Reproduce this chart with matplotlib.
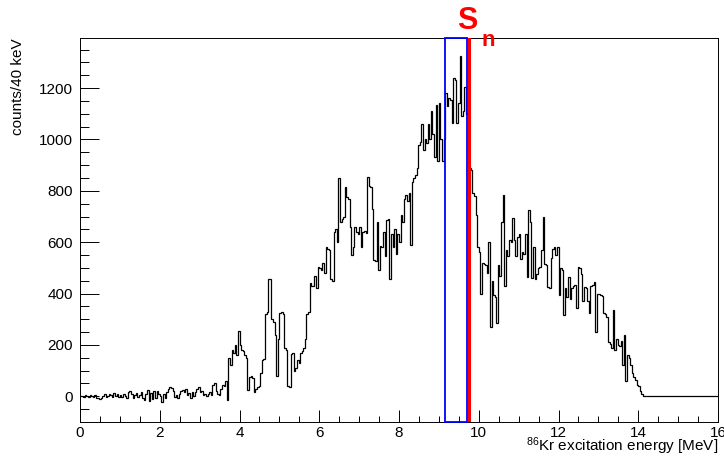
import matplotlib
matplotlib.use("Agg")
import matplotlib.pyplot as plt
import numpy as np
from matplotlib.ticker import MultipleLocator
from matplotlib.patches import Rectangle

plt.rcParams["font.family"] = ["Liberation Sans", "DejaVu Sans"]
plt.rcParams["mathtext.default"] = "regular"

# 40 keV bins, 0-16 MeV (counts per bin)
counts_0_2 = [0, 3, -2, 5, 2, -4, 6, 0, -3, 4, -6, -8, -10, -5, 3, 8, -4, 2, 10, 5, -2, 12, 3, 8, -1,
              5, -3, 10, 2, -6, 15, 22, 8, -5, 4, 12, -2, 6, 18, -8, -15, 10, 25, -20, 14, -12, 20, -5, 22, 8]
counts_2_4 = [2, -22, 10, -5, 18, 30, 35, 32, 20, -2, 5, -8, 10, 22, 25, 15, 28, 5, 12, -5, 18, 2, 15, 30, 35,
              15, 20, 5, 10, 0, 8, 15, 5, 45, 50, 20, 10, 5, 30, 45, 40, 60, -15, 150, 120, 180, 170, 200, 160, 255]
counts_4_6 = [200, 180, 175, 160, 150, 25, 75, 80, 70, 15, 30, 35, 40, 90, 140, 145, 320, 330, 455, 455, 300, 290, 240, 80, 225,
              325, 330, 320, 190, 180, 40, 35, 165, 170, 100, 110, 140, 130, 170, 175, 190, 225, 320, 330, 440, 430, 430, 470, 420, 505]
counts_6_8 = [500, 490, 520, 480, 580, 575, 570, 455, 450, 640, 650, 600, 850, 680, 690, 700, 815, 775, 770, 660, 550, 580, 660, 640, 630,
              660, 580, 640, 645, 635, 855, 820, 815, 730, 530, 525, 680, 490, 585, 580, 640, 545, 685, 690, 455, 630, 580, 650, 555, 630]
counts_8_10 = [600, 705, 680, 770, 785, 760, 790, 590, 835, 850, 860, 890, 980, 990, 1060, 960, 1000, 985, 1060, 1000, 1110, 1020, 930, 1135, 915,
               1140, 1000, 915, 1000, 1180, 1130, 1160, 1155, 1065, 1240, 1230, 1065, 1140, 1325, 1090, 1110, 1205, 1100, 960, 890, 880, 790, 780, 705, 580]
counts_10_12 = [560, 400, 520, 515, 510, 480, 600, 270, 450, 395, 385, 285, 510, 470, 680, 785, 430, 570, 545, 610, 600, 695, 610, 545, 620,
                630, 535, 560, 555, 630, 465, 725, 680, 460, 580, 455, 475, 500, 505, 570, 700, 515, 510, 425, 420, 540, 575, 580, 550, 580]
counts_12_14 = [395, 500, 490, 315, 420, 385, 465, 380, 420, 430, 435, 345, 505, 500, 475, 370, 425, 420, 370, 325, 430, 435, 445, 250, 400,
                400, 395, 390, 325, 320, 310, 210, 205, 190, 335, 180, 225, 200, 195, 215, 120, 240, 60, 160, 150, 120, 90, 75, 65, 45]
counts_14_16 = [40, 20, 8, 0, 0, 0, 0, 0, 0, 0, 0, 0, 0, 0, 0, 0, 0, 0, 0, 0, 0, 0, 0, 0, 0,
                0, 0, 0, 0, 0, 0, 0, 0, 0, 0, 0, 0, 0, 0, 0, 0, 0, 0, 0, 0, 0, 0, 0, 0, 0]

window = (9.16, 9.71)   # blue gate [MeV]
sn_energy = 9.76        # neutron separation energy [MeV]

counts = np.array(counts_0_2 + counts_2_4 + counts_4_6 + counts_6_8 +
                  counts_8_10 + counts_10_12 + counts_12_14 + counts_14_16)
edges = np.linspace(0, 16, len(counts) + 1)

fig = plt.figure(figsize=(7.24, 4.57), dpi=100)
ax = fig.add_axes([80/724, 1 - 422/457, 638/724, 384/457])

ax.stairs(counts, edges, color="black", lw=0.9, baseline=None)

ax.set_xlim(0, 16)
ax.set_ylim(-100, 1395)
y0, y1 = ax.get_ylim()
ax.add_patch(Rectangle((window[0], y0), window[1] - window[0], y1 - y0,
                       fill=False, edgecolor="blue", lw=1.3, clip_on=False, zorder=4))
ax.axvline(sn_energy, color="red", lw=2.2, zorder=5)

ax.xaxis.set_major_locator(MultipleLocator(2))
ax.xaxis.set_minor_locator(MultipleLocator(0.5))
ax.yaxis.set_major_locator(MultipleLocator(200))
ax.yaxis.set_minor_locator(MultipleLocator(50))
ax.tick_params(which="both", direction="in", top=False, right=False, labelsize=11, width=0.7)
ax.tick_params(axis="y", which="major", length=13.5, pad=5)
ax.tick_params(axis="y", which="minor", length=6.5)
ax.tick_params(axis="x", which="major", length=8.5, pad=3)
ax.tick_params(axis="x", which="minor", length=4)
for s in ax.spines.values():
    s.set_linewidth(0.7)

ax.set_ylabel("counts/40 keV", fontsize=11, loc="top")
ax.yaxis.set_label_coords(-0.086, 1.0)
ax.set_xlabel(r"$^{86}$Kr excitation energy [MeV]", fontsize=11, loc="right")
ax.xaxis.set_label_coords(1.0, -0.036)

fig.text(457.5/724, 1 - 29/457, "S", color="red", fontsize=22, fontweight="bold",
         ha="left", va="baseline")
fig.text(481/724, 1 - 46.5/457, "n", color="red", fontsize=16, fontweight="bold",
         ha="left", va="baseline")

fig.savefig("out.png", dpi=100)
